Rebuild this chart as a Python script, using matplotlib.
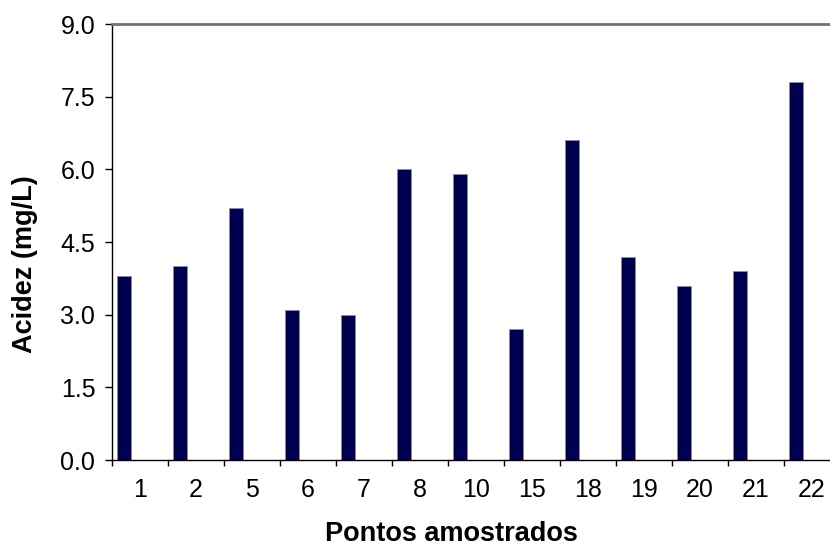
import numpy as np
import matplotlib.pyplot as plt

plt.rcParams['font.family'] = ['Liberation Sans', 'DejaVu Sans']

pontos = ['1', '2', '5', '6', '7', '8', '10', '15', '18', '19', '20', '21', '22']
acidez = [3.8, 4.0, 5.2, 3.1, 3.0, 6.0, 5.9, 2.7, 6.6, 4.2, 3.6, 3.9, 7.8]
y_ticks = [0.0, 1.5, 3.0, 4.5, 6.0, 7.5, 9.0]

fig = plt.figure(figsize=(8.3, 5.47), dpi=100)
# plot area runs past the right edge of the figure
ax = fig.add_axes([112 / 830, 1 - 460 / 547, 728 / 830, 436 / 547])

x = np.arange(len(pontos))
ax.bar(x - 0.28, acidez, width=0.25, color='#000050', edgecolor='#8a8aa8', linewidth=0.6)

ax.set_xlim(-0.5, len(pontos) - 0.5)
ax.set_ylim(0, 9)
ax.set_yticks(y_ticks)
ax.set_yticklabels(['%.1f' % v for v in y_ticks])
ax.set_xticks(x)
ax.set_xticklabels(pontos)
ax.set_xticks(np.arange(len(pontos) + 1) - 0.5, minor=True)

ax.tick_params(axis='x', which='major', length=0, pad=13, labelsize=18)
ax.tick_params(axis='x', which='minor', length=4.5, width=1, direction='out')
ax.tick_params(axis='y', length=5, width=1, direction='out', pad=7, labelsize=18)

ax.spines['top'].set_color('#707070')
ax.spines['top'].set_linewidth(2)
ax.spines['right'].set_visible(False)
ax.spines['left'].set_linewidth(1)
ax.spines['bottom'].set_linewidth(1)

ax.set_ylabel('Acidez (mg/L)', fontsize=19.5, fontweight='bold', va='center')
ax.yaxis.set_label_coords(-0.1195, 0.45)
ax.set_xlabel('Pontos amostrados', fontsize=19.5, fontweight='bold', va='center')
ax.xaxis.set_label_coords(0.4657, -0.1695)

fig.savefig('out.png', dpi=100)
